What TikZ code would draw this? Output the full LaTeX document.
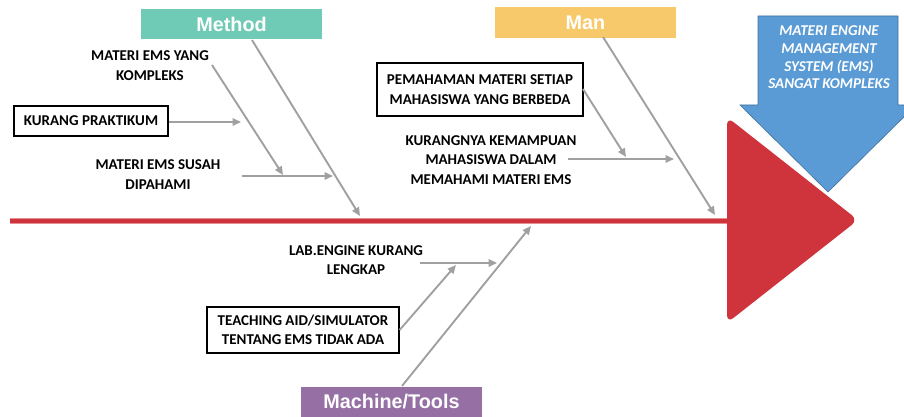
\documentclass[tikz,border=0pt]{standalone}
\usepackage{fontspec}
\setmainfont{Carlito}
\newfontfamily\headfont{Liberation Sans}
\usetikzlibrary{arrows.meta}
\definecolor{methodc}{HTML}{70CBB6}
\definecolor{manc}{HTML}{F7C96B}
\definecolor{machc}{HTML}{9670A5}
\definecolor{spinec}{HTML}{CF333B}
\definecolor{bluec}{HTML}{5B9BD5}
\definecolor{blueedge}{HTML}{41719C}
\definecolor{bonec}{HTML}{A0A0A0}
\tikzset{
  headbox/.style={fill=#1, text=white, inner sep=0pt, font=\headfont\bfseries\fontsize{19.8}{22}\selectfont},
  lbl/.style={align=center, inner sep=0pt, font=\bfseries\fontsize{15}{19.5}\selectfont},
  lblbox/.style={lbl, draw=black, line width=1.2pt},
  bone/.style={draw=bonec, line width=1.9pt, -{Triangle[length=8.5pt,width=7.5pt]}},
}
\begin{document}
\begin{tikzpicture}[x=1pt,y=-1pt]
\useasboundingbox (0,0) rectangle (904,417);
\begin{scope}
\clip (0,0) rectangle (904,417);
% spine
\coordinate (s0) at (10,221);
\coordinate (s1) at (735,221);
\draw[spinec!55, line width=6pt] (s0) -- (s1);
\draw[spinec, line width=4.2pt] (s0) -- (s1);
% red head
\fill[spinec, rounded corners=8pt] (727,117) -- (858,220) -- (727,323) -- cycle;
% blue arrow
\filldraw[fill=bluec, draw=blueedge, line width=0.6pt] (758,16) -- (898,16) -- (898,105) -- (916,105) -- (828,192) -- (740,105) -- (758,105) -- cycle;
\node[align=center, text=white, inner sep=0pt, font=\bfseries\itshape\fontsize{15}{17.6}\selectfont] (effect) at (829,57.5) {MATERI ENGINE\\MANAGEMENT\\SYSTEM (EMS)\\SANGAT KOMPLEKS};
\end{scope}

% category heads
\node[headbox=methodc, minimum width=181pt, minimum height=30pt] (method) at (231.5,24) {Method};
\node[headbox=manc, minimum width=181pt, minimum height=31pt] (man) at (585.5,22.5) {Man};
\node[headbox=machc, minimum width=181pt, minimum height=30pt] (mach) at (391.5,402) {Machine/Tools};

% Method bones
\coordinate (m1) at (252,40);
\coordinate (m2) at (360,216);
\draw[bone] (m1) -- (m2);
\node[lbl] (mek) at (150,65.5) {MATERI EMS YANG\\KOMPLEKS};
\node[lblbox, minimum width=154pt, minimum height=30pt] (kp) at (91,121) {KURANG PRAKTIKUM};
\node[lbl] (mes) at (158,174.5) {MATERI EMS SUSAH\\DIPAHAMI};
\coordinate (a1) at (212,65);
\coordinate (a2) at (283,175);
\draw[bone] (a1) -- (a2);
\coordinate (kpe) at (241,122);
\draw[bone] (kp.east |- kpe) -- (kpe);
\coordinate (b1) at (242,176);
\coordinate (b2) at (333,176);
\draw[bone] (b1) -- (b2);

% Man bones
\coordinate (n1) at (603,37);
\coordinate (n2) at (715,215);
\draw[bone] (n1) -- (n2);
\node[lblbox, minimum width=206pt, minimum height=53pt] (pm) at (480,89.5) {PEMAHAMAN MATERI SETIAP\\MAHASISWA YANG BERBEDA};
\node[lbl] (kk) at (491,160) {KURANGNYA KEMAMPUAN\\MAHASISWA DALAM\\MEMAHAMI MATERI EMS};
\coordinate (c1) at (583,89);
\coordinate (c2) at (626,157);
\draw[bone] (c1) -- (c2);
\coordinate (d1) at (568,159);
\coordinate (d2) at (674,159);
\draw[bone] (d1) -- (d2);

% Machine bones
\coordinate (t1) at (402,386);
\coordinate (t2) at (531,226);
\draw[bone] (t1) -- (t2);
\node[lbl] (lab) at (356,260) {LAB.ENGINE KURANG\\LENGKAP};
\node[lblbox, minimum width=192pt, minimum height=46pt] (ta) at (303,330) {TEACHING AID/SIMULATOR\\TENTANG EMS TIDAK ADA};
\coordinate (e1) at (420,263);
\coordinate (e2) at (497,263);
\draw[bone] (e1) -- (e2);
\coordinate (f2) at (456,265);
\draw[bone] (ta.east) -- (f2);
\end{tikzpicture}
\end{document}
